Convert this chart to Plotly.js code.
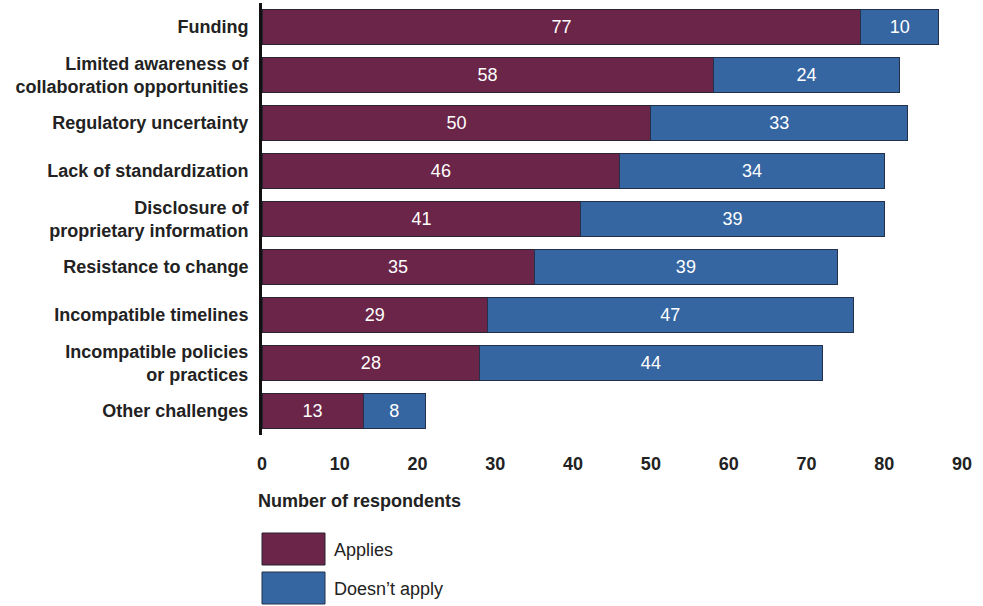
<!DOCTYPE html>
<html>
<head>
<meta charset="utf-8">
<script src="https://cdn.plot.ly/plotly-3.0.1.min.js"></script>
<style>html,body{margin:0;padding:0;background:#fff;}#chart{width:983px;height:606px;}</style>
</head>
<body>
<div id="chart"></div>
<script>
const categories = [
  "Funding",
  "Limited awareness of<br>collaboration opportunities",
  "Regulatory uncertainty",
  "Lack of standardization",
  "Disclosure of<br>proprietary information",
  "Resistance to change",
  "Incompatible timelines",
  "Incompatible policies<br>or practices",
  "Other challenges"
];
const applies = [77, 58, 50, 46, 41, 35, 29, 28, 13];
const doesntApply = [10, 24, 33, 34, 39, 39, 47, 44, 8];
const seriesNames = ["Applies", "Doesn’t apply"];
const xTicks = [0, 10, 20, 30, 40, 50, 60, 70, 80, 90];
const axisTitle = "Number of respondents";

const colApplies = "#6a2548";
const colDoesnt = "#3566a2";
const W = 983, H = 606;
const L = 262, R = 21, T = 3, B = 171;
const plotW = W - L - R, plotH = H - T - B;
const px = p => (p - L) / plotW;
const py = p => (H - B - p) / plotH;

const font = "Liberation Sans, Arial, sans-serif";
const FS = 18;

const traces = [
  {
    type: "bar", orientation: "h", name: seriesNames[0],
    y: categories, x: applies, text: applies.map(String),
    textposition: "inside", insidetextanchor: "middle",
    textfont: {color: "#ffffff", size: FS, family: font},
    marker: {color: colApplies, line: {color: "#2b2233", width: 1}},
    hoverinfo: "x+y"
  },
  {
    type: "bar", orientation: "h", name: seriesNames[1],
    y: categories, x: doesntApply, text: doesntApply.map(String),
    textposition: "inside", insidetextanchor: "middle",
    textfont: {color: "#ffffff", size: FS, family: font},
    marker: {color: colDoesnt, line: {color: "#23324a", width: 1}},
    hoverinfo: "x+y"
  }
];

const layout = {
  width: W, height: H,
  margin: {l: L, r: R, t: T, b: B, pad: 0},
  paper_bgcolor: "#ffffff", plot_bgcolor: "#ffffff",
  barmode: "stack", bargap: 0.29,
  showlegend: false,
  font: {family: font, color: "#222222"},
  xaxis: {
    range: [0, 90], tickvals: xTicks, ticktext: xTicks.map(String),
    showgrid: false, zeroline: false, showline: false,
    ticks: "outside", ticklen: 12, tickcolor: "rgba(0,0,0,0)",
    tickfont: {size: FS, family: font, color: "#222222", weight: "bold"},
    fixedrange: true
  },
  yaxis: {
    type: "category", autorange: false, range: [8.5, -0.5],
    showgrid: false, zeroline: false,
    showline: true, linecolor: "#111111", linewidth: 3,
    ticks: "outside", ticklen: 7, tickcolor: "rgba(0,0,0,0)",
    tickfont: {size: FS, family: font, color: "#222222", weight: "bold"},
    fixedrange: true
  },
  shapes: [
    {type: "rect", xref: "paper", yref: "paper",
     x0: px(262), x1: px(325), y0: py(533), y1: py(565),
     fillcolor: colApplies, line: {color: "#2b2233", width: 1}},
    {type: "rect", xref: "paper", yref: "paper",
     x0: px(262), x1: px(325), y0: py(572), y1: py(604),
     fillcolor: colDoesnt, line: {color: "#23324a", width: 1}}
  ],
  annotations: [
    {text: axisTitle, xref: "paper", yref: "paper", x: px(256), y: py(501),
     xanchor: "left", yanchor: "middle", showarrow: false,
     font: {size: FS, family: font, color: "#222222", weight: "bold"}},
    {text: seriesNames[0], xref: "paper", yref: "paper", x: px(332), y: py(550),
     xanchor: "left", yanchor: "middle", showarrow: false,
     font: {size: FS, family: font, color: "#222222"}},
    {text: seriesNames[1], xref: "paper", yref: "paper", x: px(332), y: py(589),
     xanchor: "left", yanchor: "middle", showarrow: false,
     font: {size: FS, family: font, color: "#222222"}}
  ]
};

Plotly.newPlot("chart", traces, layout, {displayModeBar: false, staticPlot: true});
</script>
</body>
</html>
